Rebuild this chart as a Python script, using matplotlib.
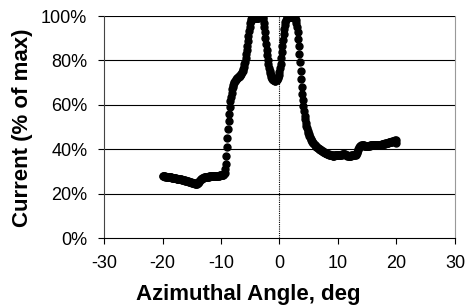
"""Current vs azimuthal angle scan."""

import numpy as np
from matplotlib import pyplot as plt
from matplotlib.ticker import PercentFormatter

plt.rcParams["font.family"] = ["Liberation Sans", "DejaVu Sans"]
plt.rcParams["axes.unicode_minus"] = False

# angle sampled every 0.1 deg from -20 to 20
angle_deg = np.round(np.arange(-200, 201) / 10.0, 1)

# current, % of max, one row per degree (10 samples)
current_pct = [
    28.0, 27.9, 27.9, 27.8, 27.8, 27.7, 27.7, 27.6, 27.6, 27.5,
    27.5, 27.5, 27.4, 27.4, 27.3, 27.3, 27.2, 27.2, 27.1, 27.1,
    27.0, 27.0, 26.9, 26.9, 26.8, 26.8, 26.7, 26.7, 26.6, 26.6,
    26.5, 26.4, 26.4, 26.3, 26.2, 26.2, 26.1, 26.0, 26.0, 25.9,
    25.8, 25.7, 25.6, 25.6, 25.5, 25.4, 25.3, 25.2, 25.2, 25.1,
    25.0, 24.9, 24.8, 24.8, 24.7, 24.6, 24.5, 24.4, 24.4, 24.3,
    24.6, 25.0, 25.4, 25.8, 26.1, 26.4, 26.6, 26.8, 27.0, 27.1,
    27.2, 27.3, 27.4, 27.4, 27.5, 27.5, 27.6, 27.6, 27.7, 27.7,
    27.8, 27.8, 27.8, 27.9, 27.9, 27.9, 27.9, 28.0, 28.0, 28.0,
    28.0, 28.0, 28.0, 28.1, 28.1, 28.1, 28.1, 28.1, 28.2, 28.2,
    28.2, 28.2, 28.3, 28.3, 28.5, 28.8, 29.5, 31.0, 33.5, 37.0,
    41.0, 45.0, 49.0, 52.5, 56.0, 59.0, 61.5, 63.5, 65.5, 67.0,
    68.0, 69.0, 69.8, 70.4, 70.9, 71.3, 71.6, 71.9, 72.2, 72.5,
    72.7, 73.0, 73.2, 73.5, 73.8, 74.1, 74.6, 75.2, 76.0, 77.0,
    78.2, 79.5, 81.0, 82.7, 84.5, 86.5, 88.7, 91.0, 93.2, 95.2,
    96.8, 97.8, 98.5, 98.9, 99.1, 99.2, 99.2, 99.2, 99.1, 99.1,
    99.1, 99.1, 99.1, 99.2, 99.3, 99.4, 99.6, 99.8, 99.9, 100.0,
    100.0, 99.6, 98.6, 97.0, 95.0, 92.6, 90.0, 87.4, 84.8, 82.4,
    80.2, 78.3, 76.7, 75.3, 74.2, 73.3, 72.6, 72.0, 71.6, 71.3,
    71.1, 71.0, 70.9, 70.9, 71.0, 71.2, 71.5, 72.0, 72.6, 73.5,
    74.8, 76.5, 78.6, 81.0, 83.7, 86.5, 89.2, 91.8, 94.0, 95.8,
    97.2, 98.2, 98.9, 99.3, 99.5, 99.6, 99.6, 99.6, 99.6, 99.6,
    99.6, 99.6, 99.6, 99.6, 99.5, 99.4, 99.2, 98.8, 98.0, 96.8,
    95.0, 92.7, 89.8, 86.6, 83.0, 79.2, 75.4, 71.6, 68.1, 64.9,
    62.0, 59.4, 57.1, 55.1, 53.4, 51.9, 50.6, 49.4, 48.4, 47.5,
    46.7, 46.0, 45.4, 44.8, 44.3, 43.8, 43.4, 43.0, 42.6, 42.3,
    42.0, 41.7, 41.4, 41.2, 40.9, 40.7, 40.5, 40.3, 40.1, 39.9,
    39.7, 39.5, 39.3, 39.2, 39.0, 38.8, 38.7, 38.5, 38.4, 38.3,
    38.2, 38.0, 37.9, 37.8, 37.7, 37.6, 37.5, 37.4, 37.3, 37.2,
    37.2, 37.1, 37.1, 37.1, 37.2, 37.3, 37.4, 37.5, 37.6, 37.6,
    37.6, 37.5, 37.4, 37.3, 37.3, 37.4, 37.6, 37.8, 37.9, 38.0,
    38.0, 37.9, 37.8, 37.6, 37.4, 37.2, 37.0, 36.9, 36.8, 36.8,
    36.8, 36.9, 37.1, 37.3, 37.5, 37.6, 37.6, 37.5, 37.4, 37.4,
    37.5, 37.7, 38.1, 38.7, 39.5, 40.3, 40.9, 41.3, 41.5, 41.6,
    41.7, 41.7, 41.7, 41.7, 41.7, 41.6, 41.6, 41.6, 41.6, 41.6,
    41.6, 41.6, 41.6, 41.6, 41.6, 41.7, 41.7, 41.7, 41.7, 41.7,
    41.7, 41.7, 41.8, 41.8, 41.8, 41.8, 41.8, 41.9, 41.9, 41.9,
    42.0, 42.0, 42.0, 42.1, 42.1, 42.2, 42.2, 42.3, 42.3, 42.4,
    42.5, 42.6, 42.7, 42.8, 42.9, 43.0, 43.0, 43.1, 43.1, 43.2,
    43.2, 43.3, 43.4, 43.5, 43.6, 43.7, 43.8, 43.9, 44.0, 44.0,
    42.8,
]

x_ticks = [-30, -20, -10, 0, 10, 20, 30]
y_ticks = [0, 20, 40, 60, 80, 100]


def plot(output_file: str):
    """Plot the scan."""
    fig = plt.figure(figsize=(4.67, 3.06), dpi=100)
    ax = fig.add_axes([0.2227, 0.2222, 0.7516, 0.7255])

    for y in y_ticks[1:]:
        ax.axhline(y, color="black", lw=0.8, zorder=1)
    ax.axvline(0, color="black", lw=0.8, ls=(0, (1, 1)), zorder=1)

    ax.plot(angle_deg, current_pct, ls="none", marker="o", ms=5,
            color="black", zorder=3)

    ax.set_xlim(-30, 30)
    ax.set_ylim(0, 100)
    ax.set_xticks(x_ticks)
    ax.set_yticks(y_ticks)
    ax.yaxis.set_major_formatter(PercentFormatter(decimals=0))
    ax.tick_params(direction="out", length=4, width=0.8, labelsize=13,
                   colors="black")
    ax.tick_params(axis="x", pad=8)
    ax.tick_params(axis="y", pad=8)

    ax.spines["top"].set_visible(False)
    ax.spines["right"].set_color("#999999")
    ax.spines["left"].set_color("#444444")
    for s in ax.spines.values():
        s.set_linewidth(0.8)

    fig.text(0.531, 0.036, "Azimuthal Angle, deg", fontsize=16,
             fontweight="bold", ha="center", va="center")
    fig.text(0.049, 0.582, "Current (% of max)", fontsize=16,
             fontweight="bold", ha="center", va="center", rotation=90)
    fig.savefig(output_file, dpi=100)


if __name__ == "__main__":
    plot("out.png")
